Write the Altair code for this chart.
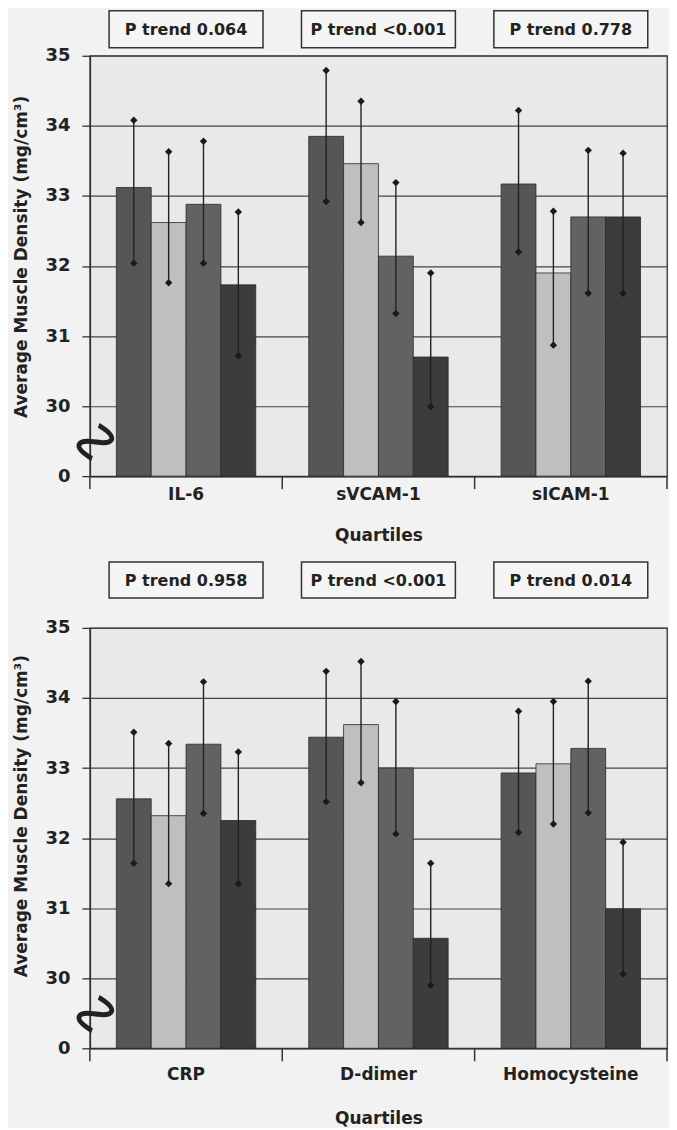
import altair as alt
import pandas as pd

# ---------------- data ----------------
quartiles = ["Q1", "Q2", "Q3", "Q4"]
AXIS_BREAK = 29  # value drawn as "0" below the broken axis

top_markers = ["IL-6", "sVCAM-1", "sICAM-1"]
top_ptrend = ["P trend 0.064", "P trend <0.001", "P trend 0.778"]
il6_mean = [33.12, 32.62, 32.88, 31.73]
il6_upper = [34.08, 33.63, 33.78, 32.77]
il6_lower = [32.04, 31.76, 32.04, 30.72]
svcam_mean = [33.85, 33.46, 32.14, 30.70]
svcam_upper = [34.79, 34.35, 33.19, 31.90]
svcam_lower = [32.92, 32.62, 31.32, 29.99]
sicam_mean = [33.17, 31.90, 32.70, 32.70]
sicam_upper = [34.22, 32.78, 33.65, 33.61]
sicam_lower = [32.20, 30.87, 31.61, 31.61]

bottom_markers = ["CRP", "D-dimer", "Homocysteine"]
bottom_ptrend = ["P trend 0.958", "P trend <0.001", "P trend 0.014"]
crp_mean = [32.56, 32.32, 33.34, 32.25]
crp_upper = [33.51, 33.35, 34.23, 33.23]
crp_lower = [31.64, 31.35, 32.35, 31.35]
ddimer_mean = [33.44, 33.62, 33.00, 30.57]
ddimer_upper = [34.38, 34.52, 33.95, 31.64]
ddimer_lower = [32.52, 32.79, 32.06, 29.90]
homo_mean = [32.93, 33.06, 33.28, 30.99]
homo_upper = [33.81, 33.95, 34.24, 31.94]
homo_lower = [32.08, 32.20, 32.36, 30.06]

y_ticks = [29, 30, 31, 32, 33, 34, 35]
bar_colors = ["#565656", "#bfbfbf", "#626262", "#3c3c3c"]

FONT = "DejaVu Sans"
W, H = 578, 421


def panel(markers, series, ptexts, box_y, box_y2, label_pad, title_pad, ytitle_y):
    rows = []
    for m, (mean, up, lo) in zip(markers, series):
        for q, a, b, c in zip(quartiles, mean, up, lo):
            rows.append({"marker": m, "quartile": q, "mean": a, "upper": b, "lower": c})
    df = pd.DataFrame(rows)
    pdf = pd.DataFrame({"marker": markers, "ptext": ptexts})
    edge_df = pd.DataFrame({"marker": markers})
    one = pd.DataFrame({"k": [0]})

    xscale = alt.Scale(domain=markers, paddingInner=0, paddingOuter=0)
    xaxis = alt.Axis(
        title="Quartiles", labelAngle=0, ticks=False, tickSize=0,
        labelPadding=label_pad, titlePadding=title_pad,
        labelFont=FONT, labelFontSize=17, labelFontWeight="bold", labelColor="#222",
        titleFont=FONT, titleFontSize=17, titleFontWeight="bold", titleColor="#222",
        domainColor="#333", domainWidth=1.5, grid=False,
    )
    x = alt.X("marker:N", sort=markers, scale=xscale, axis=xaxis)
    xo = alt.XOffset("quartile:N", sort=quartiles,
                     scale=alt.Scale(domain=quartiles, paddingInner=0, paddingOuter=0.76))
    yscale = alt.Scale(domain=[AXIS_BREAK, 35], nice=False, zero=False)
    yaxis = alt.Axis(
        title="Average Muscle Density (mg/cm³)", values=y_ticks, format="d",
        labelExpr="datum.value == 29 ? '0' : datum.label",
        tickSize=8, tickColor="#333", tickWidth=1.3, labelPadding=12,
        labelFont=FONT, labelFontSize=18, labelFontWeight="bold", labelColor="#222",
        titleFont=FONT, titleFontSize=17, titleFontWeight="bold", titleColor="#222",
        titlePadding=14, titleY=ytitle_y, domainColor="#333", domainWidth=1.5,
        grid=True, gridColor="#444", gridWidth=1.2,
    )

    bars = alt.Chart(df).mark_bar(stroke="#2a2a2a", strokeWidth=0.8).encode(
        x=x, xOffset=xo,
        y=alt.Y("mean:Q", scale=yscale, axis=yaxis),
        y2=alt.datum(AXIS_BREAK),
        color=alt.Color("quartile:N", scale=alt.Scale(domain=quartiles, range=bar_colors), legend=None),
    )
    err = alt.Chart(df).mark_rule(color="#222", strokeWidth=1.4).encode(
        x=x, xOffset=xo,
        y=alt.Y("lower:Q", scale=yscale, axis=yaxis),
        y2="upper:Q",
    )
    dots = alt.Chart(df).transform_fold(["lower", "upper"], as_=["end", "val"]).mark_point(
        shape="diamond", filled=True, size=55, color="#1a1a1a", opacity=1
    ).encode(
        x=x, xOffset=xo,
        y=alt.Y("val:Q", scale=yscale, axis=yaxis),
    )
    boxes = alt.Chart(pdf).mark_bar(
        fill="#f5f5f5", stroke="#333", strokeWidth=1.5, width=alt.RelativeBandSize(0.8)
    ).encode(x=x, y=alt.value(box_y), y2=alt.value(box_y2))
    ptxt = alt.Chart(pdf).mark_text(
        font=FONT, fontSize=16, fontWeight="bold", color="#222", baseline="middle"
    ).encode(x=x, y=alt.value((box_y + box_y2) / 2 + 1), text="ptext:N")
    edges = alt.Chart(edge_df).mark_rule(color="#333", strokeWidth=1.5).encode(
        x=alt.X("marker:N", sort=markers, scale=xscale, axis=xaxis, bandPosition=0),
        y=alt.value(H), y2=alt.value(H + 13),
    )
    last_edge = alt.Chart(edge_df).transform_filter(
        alt.datum.marker == markers[-1]
    ).mark_rule(color="#333", strokeWidth=1.5).encode(
        x=alt.X("marker:N", sort=markers, scale=xscale, axis=xaxis, bandPosition=1),
        y=alt.value(H), y2=alt.value(H + 13),
    )
    squiggle = alt.Chart(one).mark_text(
        text="∿", font="DejaVu Sans", fontSize=62, angle=110, color="#222",
        align="center", baseline="middle", fontWeight="normal"
    ).encode(x=alt.value(5), y=alt.datum(29.49))

    return alt.layer(bars, err, dots, boxes, ptxt, edges, last_edge, squiggle).properties(
        width=W, height=H
    )


top = panel(top_markers,
            [(il6_mean, il6_upper, il6_lower),
             (svcam_mean, svcam_upper, svcam_lower),
             (sicam_mean, sicam_upper, sicam_lower)],
            top_ptrend, -45, -8, 10, 25, 201)
bottom = panel(bottom_markers,
               [(crp_mean, crp_upper, crp_lower),
                (ddimer_mean, ddimer_upper, ddimer_lower),
                (homo_mean, homo_upper, homo_lower)],
               bottom_ptrend, -66, -30, 18, 28, 188)

chart = alt.vconcat(top, bottom, spacing=16).properties(
    background="#f2f2f2",
    padding={"left": 4, "top": 0, "right": 0, "bottom": 0},
).configure_view(fill="#e9e9e9", stroke="#333", strokeWidth=1.3)

chart.save("out.html", embed_options={"renderer": "svg", "actions": False})
